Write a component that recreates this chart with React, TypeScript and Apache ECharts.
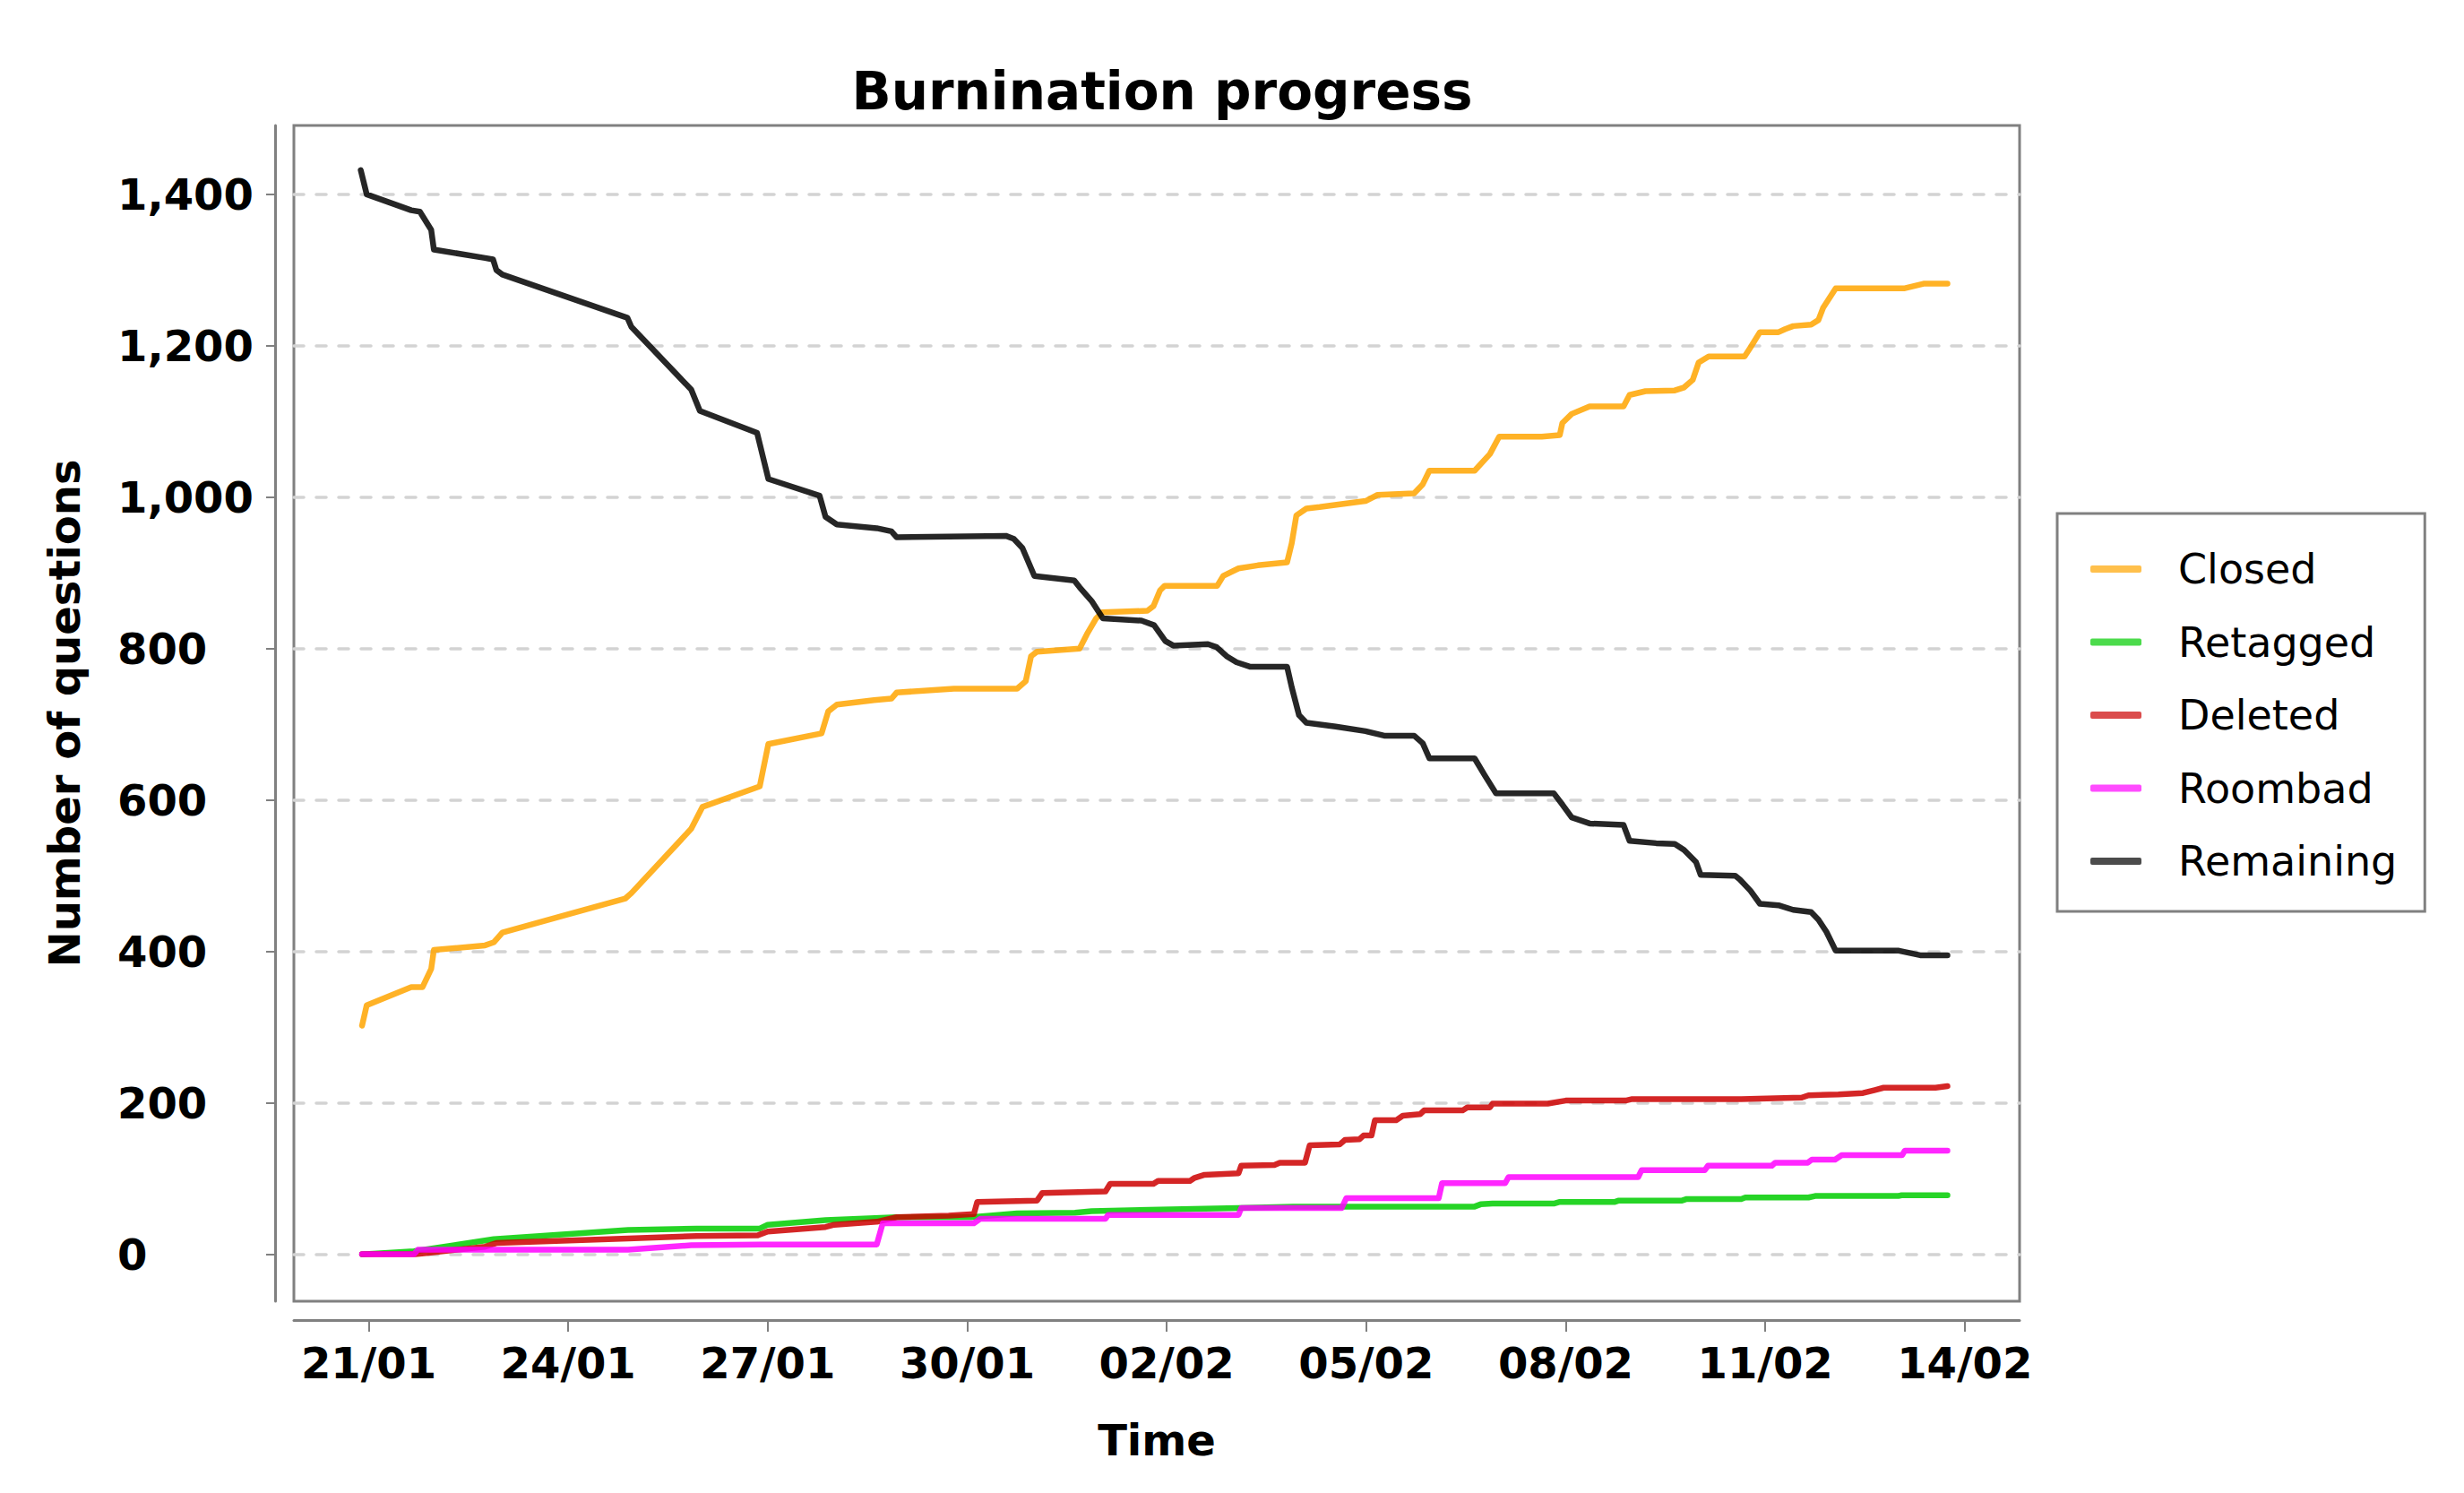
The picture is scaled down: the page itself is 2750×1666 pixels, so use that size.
import React, { useEffect, useRef } from "react";
import * as echarts from "echarts";

// x values are days since 1 Jan 2018 (21/01 = 20), y values are question counts
const seriesNames = ["Closed", "Retagged", "Deleted", "Roombad", "Remaining"];
const seriesColors = ["#FFA500", "#00CC00", "#CC0000", "#FF00FF", "#000000"];
const yTickValues = [0, 200, 400, 600, 800, 1000, 1200, 1400];
const xTickDays = [20, 23, 26, 29, 32, 35, 38, 41, 44];

const closed: [number, number][] = [
  [19.9, 302], [19.97, 329], [20.64, 353], [20.81, 353], [20.94, 377], [20.98, 402], [21.75, 408], [21.88, 412],
  [22.01, 425], [23.86, 470], [23.95, 477], [24.85, 562], [25.02, 591], [25.88, 618], [26.01, 674], [26.81, 688],
  [26.91, 717], [27.04, 726], [27.6, 732], [27.86, 734], [27.94, 742], [28.8, 747], [29.75, 747], [29.88, 757],
  [29.96, 790], [30.05, 796], [30.69, 800], [30.8, 819], [30.94, 840], [31.03, 848], [31.71, 850], [31.8, 856],
  [31.9, 877], [31.97, 883], [32.76, 883], [32.85, 896], [33.08, 906], [33.37, 910], [33.81, 914], [33.88, 939],
  [33.95, 976], [34.1, 985], [34.3, 987], [34.63, 991], [34.99, 995], [35.17, 1003], [35.72, 1005], [35.85, 1017],
  [35.95, 1035], [36.63, 1035], [36.86, 1057], [37.0, 1080], [37.64, 1080], [37.91, 1082], [37.95, 1098],
  [38.09, 1110], [38.36, 1120], [38.87, 1120], [38.96, 1135], [39.2, 1140], [39.64, 1141], [39.78, 1145],
  [39.91, 1155], [40.0, 1178], [40.15, 1186], [40.69, 1186], [40.78, 1198], [40.92, 1218], [41.2, 1218],
  [41.3, 1222], [41.42, 1226], [41.69, 1228], [41.8, 1234], [41.87, 1250], [42.06, 1276], [43.1, 1276],
  [43.38, 1282], [43.74, 1282],
];

const retagged: [number, number][] = [
  [19.9, 0], [20.68, 4], [21.88, 20], [23.9, 32], [24.93, 34], [25.88, 34], [26.0, 39], [26.87, 45], [27.94, 49],
  [29.06, 49], [29.75, 54], [30.62, 55], [30.87, 57], [31.9, 59], [33.08, 61], [33.9, 63], [36.63, 63],
  [36.72, 66], [36.9, 67], [37.82, 67], [37.9, 69], [38.73, 69], [38.8, 71], [39.75, 71], [39.82, 73],
  [40.64, 73], [40.7, 75], [41.65, 75], [41.75, 77], [43.0, 77], [43.05, 78], [43.74, 78],
];

const deleted: [number, number][] = [
  [19.9, 0], [20.7, 0], [20.9, 2], [21.75, 10], [21.93, 15], [23.9, 21], [24.93, 24], [25.85, 25], [26.0, 30],
  [26.87, 36], [27.0, 39], [27.64, 43], [27.94, 49], [28.72, 51], [29.1, 53], [29.15, 69], [30.05, 71],
  [30.13, 81], [31.08, 83], [31.15, 93], [31.8, 93], [31.87, 97], [32.35, 97], [32.42, 101], [32.57, 105],
  [33.08, 107], [33.12, 117], [33.62, 118], [33.7, 121], [34.08, 121], [34.15, 144], [34.6, 145], [34.68, 151],
  [34.9, 152], [34.96, 157], [35.08, 157], [35.13, 177], [35.45, 177], [35.55, 183], [35.81, 185], [35.87, 190],
  [36.45, 190], [36.52, 194], [36.86, 194], [36.9, 199], [37.73, 199], [38.0, 203], [38.9, 203], [39.0, 205],
  [40.64, 205], [41.55, 207], [41.65, 210], [42.1, 211], [42.47, 213], [42.65, 217], [42.78, 220],
  [43.56, 220], [43.74, 222],
];

const roombad: [number, number][] = [
  [19.9, 0], [20.68, 0], [20.74, 6], [23.9, 6], [24.85, 12], [25.88, 13], [27.64, 13], [27.73, 41], [29.1, 41],
  [29.2, 47], [31.08, 47], [31.12, 52], [33.08, 52], [33.12, 61], [34.63, 61], [34.7, 74], [36.09, 74],
  [36.14, 94], [37.09, 94], [37.14, 102], [39.09, 102], [39.14, 111], [40.09, 111], [40.14, 117], [41.1, 117],
  [41.15, 121], [41.64, 121], [41.7, 125], [42.05, 125], [42.15, 131], [43.06, 131], [43.1, 137], [43.74, 137],
];

const remaining: [number, number][] = [
  [19.88, 1432], [19.97, 1400], [20.64, 1379], [20.77, 1377], [20.94, 1353], [20.98, 1327], [21.75, 1316],
  [21.87, 1314], [21.92, 1300], [22.01, 1294], [23.89, 1237], [23.95, 1225], [24.85, 1142], [24.98, 1114],
  [25.84, 1085], [26.01, 1024], [26.78, 1002], [26.87, 974], [27.04, 964], [27.64, 959], [27.86, 955],
  [27.94, 947], [29.58, 949], [29.7, 945], [29.83, 933], [30.01, 896], [30.61, 890], [30.69, 881], [30.87, 863],
  [31.04, 840], [31.62, 837], [31.81, 831], [31.98, 810], [32.1, 804], [32.62, 806], [32.75, 802], [32.9, 790],
  [33.05, 782], [33.26, 776], [33.81, 776], [33.88, 749], [33.99, 712], [34.1, 702], [34.54, 697], [34.99, 691],
  [35.27, 685], [35.72, 685], [35.85, 675], [35.95, 655], [36.63, 655], [36.78, 633], [36.95, 609], [37.82, 609],
  [37.95, 594], [38.09, 577], [38.36, 569], [38.87, 567], [38.96, 546], [39.36, 543], [39.64, 542], [39.78, 534],
  [39.96, 518], [40.03, 501], [40.55, 500], [40.62, 495], [40.78, 480], [40.92, 463], [41.2, 461], [41.42, 455],
  [41.69, 452], [41.8, 442], [41.92, 426], [42.06, 401], [43.01, 401], [43.33, 395], [43.74, 395],
];

const seriesData = [closed, retagged, deleted, roombad, remaining];

function rgba(hex: string, a: number) {
  const r = parseInt(hex.slice(1, 3), 16);
  const g = parseInt(hex.slice(3, 5), 16);
  const b = parseInt(hex.slice(5, 7), 16);
  return `rgba(${r},${g},${b},${a})`;
}

function dayLabel(d: number) {
  const dt = new Date(Date.UTC(2018, 0, 1) + Math.round(d) * 86400000);
  const dd = String(dt.getUTCDate()).padStart(2, "0");
  const mm = String(dt.getUTCMonth() + 1).padStart(2, "0");
  return `${dd}/${mm}`;
}

const FONT = "DejaVu Sans";
const AXIS_GRAY = "#808080";

export default function App() {
  const ref = useRef<HTMLDivElement>(null);
  useEffect(() => {
    if (!ref.current) return;
    const chart = echarts.init(ref.current, undefined, { renderer: "svg" });
    chart.setOption({
      animation: false,
      backgroundColor: "#ffffff",
      title: {
        text: "Burnination progress",
        left: 1292,
        top: 68,
        textAlign: "center",
        textStyle: { fontFamily: FONT, fontWeight: "bold", fontSize: 58, color: "#000" },
      },
      grid: {
        left: 328,
        top: 140,
        width: 1926,
        height: 1312,
        show: true,
        borderColor: AXIS_GRAY,
        borderWidth: 3,
        backgroundColor: "transparent",
      },
      legend: {
        orient: "vertical",
        left: 2296,
        top: 573,
        padding: [39, 31, 33, 37],
        backgroundColor: "#ffffff",
        borderColor: AXIS_GRAY,
        borderWidth: 3,
        itemWidth: 57,
        itemHeight: 8,
        itemGap: 35.5,
        icon: "roundRect",
        textStyle: {
          fontFamily: FONT,
          fontSize: 46,
          lineHeight: 46,
          color: "#000",
          padding: [0, 0, 0, 36],
        },
        data: seriesNames.map((n, i) => ({
          name: n,
          itemStyle: { color: rgba(seriesColors[i], 0.7) },
        })),
      },
      xAxis: {
        type: "value",
        min: 18.875,
        max: 44.825,
        offset: 21,
        name: "Time",
        nameLocation: "middle",
        nameGap: 110,
        nameTextStyle: { fontFamily: FONT, fontWeight: "bold", fontSize: 48, color: "#000" },
        axisLine: { show: true, onZero: false, lineStyle: { color: AXIS_GRAY, width: 3 } },
        axisTick: { show: true, length: 13, customValues: xTickDays, lineStyle: { color: AXIS_GRAY, width: 2 } },
        axisLabel: {
          customValues: xTickDays,
          margin: 24,
          formatter: (v: number) => dayLabel(v),
          fontFamily: FONT,
          fontWeight: "bold",
          fontSize: 48,
          color: "#000",
        },
        splitLine: { show: false },
      },
      yAxis: {
        type: "value",
        min: -62,
        max: 1491,
        offset: 21,
        name: "Number of questions",
        nameLocation: "middle",
        nameGap: 211,
        nameTextStyle: { fontFamily: FONT, fontWeight: "bold", fontSize: 48, color: "#000" },
        axisLine: { show: true, onZero: false, lineStyle: { color: AXIS_GRAY, width: 3 } },
        axisTick: { show: true, length: 10, customValues: yTickValues, lineStyle: { color: AXIS_GRAY, width: 2 } },
        axisLabel: {
          customValues: yTickValues,
          margin: 176,
          align: "left",
          formatter: (v: number) => v.toLocaleString("en-US"),
          fontFamily: FONT,
          fontWeight: "bold",
          fontSize: 48,
          color: "#000",
        },
        splitLine: {
          show: true,
          lineStyle: { color: "#D3D3D3", width: 3.5, type: [11, 14], cap: "round" },
        },
      },
      series: seriesNames.map((n, i) => ({
        name: n,
        type: "line",
        data: seriesData[i],
        showSymbol: false,
        symbol: "none",
        color: rgba(seriesColors[i], 0.7),
        lineStyle: { width: 6.5, color: rgba(seriesColors[i], 0.85), cap: "round", join: "round" },
        z: 2 + i,
      })),
    });
    return () => chart.dispose();
  }, []);
  return (
    <div
      ref={ref}
      style={{ position: "fixed", left: 0, top: 0, width: 2750, height: 1666 }}
    />
  );
}
